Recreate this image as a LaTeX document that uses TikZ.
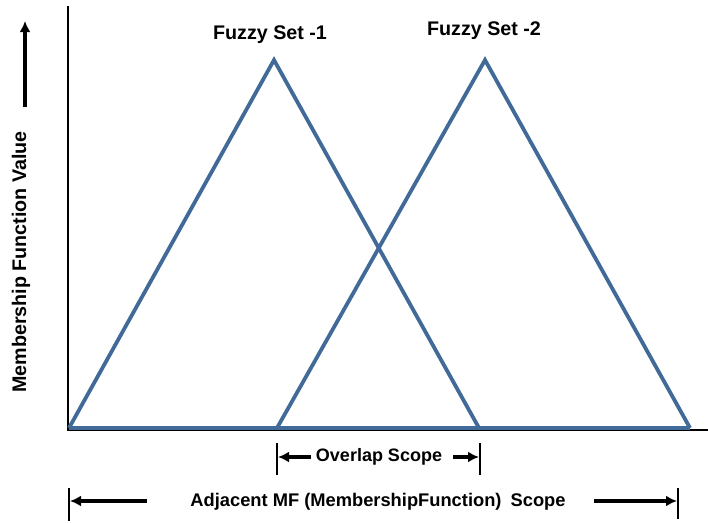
\documentclass[tikz,border=0pt]{standalone}
\usepackage{fontspec}
\setmainfont{Liberation Sans}
\usetikzlibrary{arrows.meta}
\definecolor{mfblue}{RGB}{65,106,152}
\tikzset{
  lbl/.style={font=\bfseries\fontsize{18}{20}\selectfont, inner sep=0pt},
  biglbl/.style={font=\bfseries\fontsize{19.7}{22}\selectfont, inner sep=0pt},
  mf/.style={draw=mfblue, line width=3.8pt, line join=miter},
  axisline/.style={draw=black, line width=2pt},
  bar/.style={draw=black, line width=2.8pt},
  arr/.style={draw=black, line width=3.4pt, -{Latex[length=11pt,width=11pt]}}
}
\begin{document}
\begin{tikzpicture}[x=1pt,y=-1pt]
\useasboundingbox (0,0) rectangle (708,522);
% axes
\coordinate (o) at (68,430);
\coordinate (ytop) at (68,6);
\coordinate (xend) at (708,430);
\draw[axisline] (ytop) -- (o) -- (xend);
% triangles
\coordinate (a1) at (69,428);
\coordinate (p1) at (274,60);
\coordinate (b1) at (479,428);
\coordinate (a2) at (277,428);
\coordinate (p2) at (485,60);
\coordinate (b2) at (690,428);
\draw[mf] (a1) -- (p1) -- (b1);
\draw[mf] (a2) -- (p2) -- (b2);
\draw[mf] (a1) -- (b2);
% labels
\node[biglbl] (fs1) at (270,35) {Fuzzy Set -1};
\node[biglbl] (fs2) at (484,31) {Fuzzy Set -2};
\node[biglbl, rotate=90] (yl) at (21,262) {Membership Function Value};
\coordinate (ya0) at (25,107);
\coordinate (ya1) at (25,21);
\draw[arr] (ya0) -- (ya1);
% overlap scope
\coordinate (ob1t) at (277,443); \coordinate (ob1b) at (277,475);
\coordinate (ob2t) at (480,443); \coordinate (ob2b) at (480,475);
\draw[bar] (ob1t) -- (ob1b);
\draw[bar] (ob2t) -- (ob2b);
\node[lbl] (ov) at (379,457) {Overlap Scope};
\coordinate (ol0) at (311,457); \coordinate (ol1) at (278,457);
\coordinate (or0) at (453,457); \coordinate (or1) at (479,457);
\draw[arr] (ol0) -- (ol1);
\draw[arr] (or0) -- (or1);
% adjacent scope
\coordinate (ab1t) at (69,488); \coordinate (ab1b) at (69,521);
\coordinate (ab2t) at (678,488); \coordinate (ab2b) at (678,519);
\draw[bar] (ab1t) -- (ab1b);
\draw[bar] (ab2t) -- (ab2b);
\node[lbl, font=\bfseries\fontsize{18.3}{20}\selectfont] (adj) at (378,502) {Adjacent MF (Membership\hspace{0pt}Function)\hspace{4pt} Scope};
\coordinate (al0) at (147,501); \coordinate (al1) at (70,501);
\coordinate (ar0) at (594,501); \coordinate (ar1) at (677,501);
\draw[arr] (al0) -- (al1);
\draw[arr] (ar0) -- (ar1);
\end{tikzpicture}
\end{document}
